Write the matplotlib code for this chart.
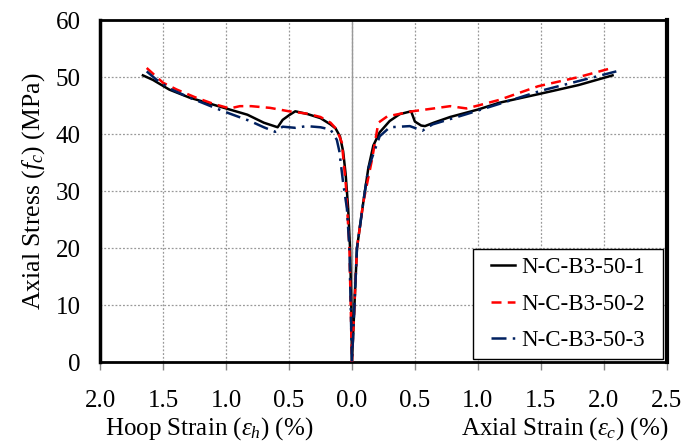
import matplotlib
matplotlib.use("Agg")
import matplotlib.pyplot as plt
from matplotlib.patches import Rectangle
import numpy as np

plt.rcParams['font.family'] = 'Liberation Serif'
plt.rcParams['mathtext.fontset'] = 'custom'
plt.rcParams['mathtext.rm'] = 'Liberation Serif'
plt.rcParams['mathtext.it'] = 'Liberation Serif:italic'

# hoop strain (%) is plotted to the left of zero, axial strain (%) to the right
hoop1 = [0, 0.005, 0.015, 0.03, 0.05, 0.07, 0.095, 0.13, 0.17, 0.25, 0.35, 0.45, 0.5, 0.55, 0.59, 0.7, 0.83, 1.0, 1.29, 1.45, 1.58, 1.66]
hoop1_f = [0, 10, 20, 27, 33, 37, 39.6, 41, 41.7, 42.8, 43.5, 44, 43.3, 42.5, 41.2, 42, 43.4, 44.5, 46.4, 47.8, 49.5, 50.3]
axial1 = [0, 0.02, 0.04, 0.09, 0.13, 0.17, 0.22, 0.3, 0.38, 0.47, 0.5, 0.55, 0.58, 0.65, 0.78, 1.0, 1.17, 1.48, 1.8, 2.07]
axial1_f = [0, 10, 20, 28, 34, 38, 40.3, 42.3, 43.5, 44, 42.2, 41.5, 41.4, 42, 43, 44.3, 45.5, 47, 48.6, 50.3]

hoop2 = [0, 0.01, 0.02, 0.048, 0.08, 0.12, 0.17, 0.25, 0.36, 0.5, 0.65, 0.8, 0.89, 0.97, 1.1, 1.25, 1.39, 1.5, 1.6, 1.63]
hoop2_f = [0, 10, 20, 31, 38.5, 40.8, 42, 43, 43.6, 44, 44.6, 44.9, 44.9, 44.5, 45.3, 46.5, 47.8, 49, 51, 51.6]
axial2 = [0, 0.02, 0.04, 0.09, 0.16, 0.21, 0.28, 0.48, 0.65, 0.78, 0.91, 1.0, 1.17, 1.48, 1.8, 2.05]
axial2_f = [0, 10, 20, 28, 35.6, 42, 43.1, 44, 44.5, 44.9, 44.5, 45, 46, 48.4, 50, 51.5]

hoop3 = [0, 0.01, 0.02, 0.04, 0.07, 0.1, 0.12, 0.17, 0.25, 0.36, 0.45, 0.55, 0.61, 0.7, 0.81, 1.02, 1.29, 1.45, 1.55, 1.63]
hoop3_f = [0, 10, 20, 27, 31.5, 37, 39, 40.8, 41.2, 41.4, 41.1, 41.3, 40.4, 41.2, 42.3, 44, 46.4, 48, 49.5, 51]
axial3 = [0, 0.02, 0.04, 0.09, 0.13, 0.22, 0.3, 0.46, 0.56, 0.64, 0.91, 1.2, 1.5, 1.8, 2.1]
axial3_f = [0, 10, 20, 28, 34, 39.6, 41.2, 41.4, 40.6, 41.7, 43.5, 45.5, 47.6, 49.3, 51]

labels = ['N-C-B3-50-1', 'N-C-B3-50-2', 'N-C-B3-50-3']

fig = plt.figure(figsize=(6.81, 4.46), dpi=100)
ax = fig.add_axes([0.147, 0.188, 0.832, 0.767])

ax.grid(True, color='#999999', linestyle=(0, (1.5, 1.5)), linewidth=0.9)
ax.axvline(0, color='#999999', linewidth=1, zorder=1)

series = [(hoop1, hoop1_f, axial1, axial1_f, 'black', '-'),
          (hoop2, hoop2_f, axial2, axial2_f, 'red', (0, (4, 2.5))),
          (hoop3, hoop3_f, axial3, axial3_f, '#002060', (0, (6, 2.5, 1, 2.5)))]

for (h, hf, a, af, c, ls), lab in zip(series, labels):
    x = np.concatenate([-np.array(h)[::-1], np.array(a)])
    y = np.concatenate([np.array(hf)[::-1], np.array(af)])
    ax.plot(x, y, color=c, linestyle=ls, linewidth=1.8, label=lab, zorder=3)

ax.set_xlim(-2.0, 2.5)
ax.set_ylim(0, 60)
ax.set_xticks(np.arange(-2.0, 2.51, 0.5))
ax.set_xticklabels([f"{abs(v):.1f}" for v in np.arange(-2.0, 2.51, 0.5)])
ax.set_yticks(range(0, 61, 10))
ax.tick_params(axis='x', direction='out', length=6, width=1, pad=14, labelsize=18, color='#888888')
ax.tick_params(axis='y', length=0, pad=14, labelsize=18)

for side, lw in [('left', 2.5), ('top', 2), ('right', 3), ('bottom', 2)]:
    ax.spines[side].set_linewidth(lw)
    ax.spines[side].set_color('black')

ax.set_ylabel(r'Axial Stress ($f_c$) (MPa)', fontsize=18.5, labelpad=6)
fig.text(0.307, 0.038, r'Hoop Strain ($\varepsilon_h$) (%)', fontsize=18, ha='center', va='center')
fig.text(0.829, 0.038, r'Axial Strain ($\varepsilon_c$) (%)', fontsize=18, ha='center', va='center')

# legend box drawn separately to get the wide side padding
box = Rectangle((0.658, 0.008), 0.336, 0.322, transform=ax.transAxes,
                facecolor='white', edgecolor='black', linewidth=1, zorder=4)
ax.add_patch(box)
leg = ax.legend(loc='center', bbox_to_anchor=(0.826, 0.169), fontsize=16.5, frameon=False,
                handlelength=1.05, handletextpad=0.25, labelspacing=0.68)
leg.set_zorder(5)

fig.savefig('out.png', dpi=100)
